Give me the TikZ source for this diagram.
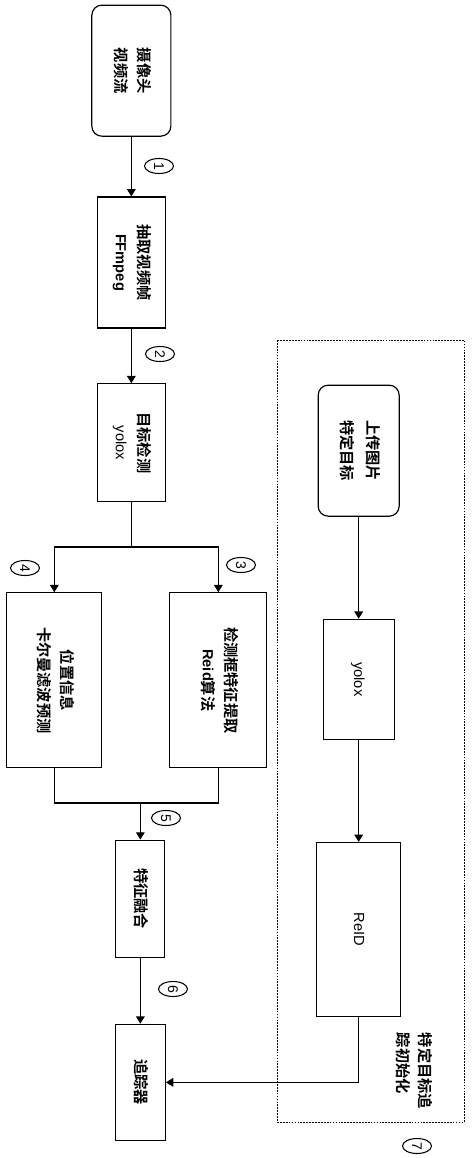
\documentclass[tikz,border=0pt]{standalone}
\usepackage{graphicx}
\usepackage{fontspec}
\setmainfont{Liberation Sans}
\newfontfamily\cjk{Noto Sans CJK SC}[BoldFont={Noto Sans CJK SC Bold}]
\usetikzlibrary{arrows.meta, positioning, shapes.geometric}
\newcommand{\zh}[1]{{\cjk\bfseries #1}}
\newcommand{\en}[1]{{\fontsize{12.5}{19}\selectfont #1}}
\newcommand{\vlines}[1]{\rotatebox{-90}{\begin{tabular}{@{}c@{}}#1\end{tabular}}}

\begin{document}
\begin{tikzpicture}[
    x=1mm, y=1mm,
    font=\fontsize{13}{19}\selectfont,
    box/.style={draw, line width=1pt, inner sep=0pt, align=center},
    roundbox/.style={box, rounded corners=3mm},
    numtag/.style={draw, ellipse, line width=0.9pt, minimum width=8.7mm, minimum height=4.5mm, inner sep=0pt, font=\fontsize{12}{12}\selectfont},
    arrow/.style={-{Triangle[length=2.2mm, width=2.6mm]}, line width=1pt},
    plainline/.style={line width=1pt},
    grouparea/.style={line width=0.8pt, dash pattern=on 1.5pt off 1pt}
]
\useasboundingbox (0,0) rectangle (142.2,-347.4);
% main chain
\node[roundbox, minimum width=23.7mm, minimum height=39.3mm] (cam) at (39.4,-21.2) {\vlines{\zh{摄像头}\\\zh{视频流}}};
\node[box, minimum width=20.4mm, minimum height=39.3mm, below=17.9mm of cam] (frame) {\vlines{\zh{抽取视频帧}\\\en{\textbf{FFmpeg}}}};
\node[box, minimum width=20.4mm, minimum height=35.4mm, below=16.4mm of frame] (det) {\vlines{\zh{目标检测}\\\en{yolox}}};
\node[box, minimum width=28.5mm, minimum height=52.5mm] (kalman) at (16.3,-204.1) {\vlines{\zh{位置信息}\\\zh{卡尔曼滤波预测}}};
\node[box, minimum width=29.1mm, minimum height=52.5mm] (reid) at (65.5,-204.1) {\vlines{\zh{检测框特征提取}\\\en{\textbf{Reid}}\zh{算法}}};
\node[box, minimum width=14.7mm, minimum height=35.1mm] (fuse) at (42.1,-269.6) {\vlines{\zh{特征融合}}};
\node[box, minimum width=15mm, minimum height=34.8mm, below=19.8mm of fuse] (tracker) {\vlines{\zh{追踪器}}};
% target initialisation
\draw[grouparea] (83.1,-102) rectangle (139.2,-336.6);
\node[roundbox, minimum width=24.3mm, minimum height=39.3mm] (upload) at (107.6,-135.2) {\vlines{\zh{上传图片}\\[3pt]\zh{特定目标}}};
\node[box, minimum width=21.3mm, minimum height=36mm, below=30.6mm of upload] (yolo) {\vlines{\en{yolox}}};
\node[box, minimum width=25.2mm, minimum height=52.2mm, below=30.6mm of yolo] (reidtwo) {\vlines{\en{ReID}}};
\node (initlabel) at (123.9,-321.3) {\rotatebox{-90}{\begin{tabular}{@{}l@{}}\zh{特定目标追}\\\zh{踪初始化}\end{tabular}}};
% step tags
\node[numtag] (tag1) at (47.7,-49.8) {\rotatebox{-90}{1}};
\node[numtag] (tag2) at (48,-106.2) {\rotatebox{-90}{2}};
\node[numtag] (tag3) at (72.3,-169.5) {\rotatebox{-90}{3}};
\node[numtag] (tag4) at (7.5,-170.4) {\rotatebox{-90}{4}};
\node[numtag] (tag5) at (49.8,-245.4) {\rotatebox{-90}{5}};
\node[numtag] (tag6) at (51.9,-296.7) {\rotatebox{-90}{6}};
\node[numtag] (tag7) at (125.1,-343.8) {\rotatebox{-90}{7}};
% connectors
\coordinate (split) at (det.south |- 0,-164.1);
\coordinate (merge) at (fuse.north |- 0,-240.9);
\draw[arrow] (cam) -- (frame);
\draw[arrow] (frame) -- (det);
\draw[plainline] (det.south) -- (split);
\draw[arrow] (split) -| (kalman.north);
\draw[arrow] (split) -| (reid.north);
\draw[plainline] (kalman.south) |- (merge);
\draw[plainline] (reid.south) |- (merge);
\draw[arrow] (merge) -- (fuse.north);
\draw[arrow] (fuse) -- (tracker);
\draw[arrow] (upload) -- (yolo);
\draw[arrow] (yolo) -- (reidtwo);
\draw[arrow] (reidtwo.south) |- (tracker.east);
\end{tikzpicture}
\end{document}
